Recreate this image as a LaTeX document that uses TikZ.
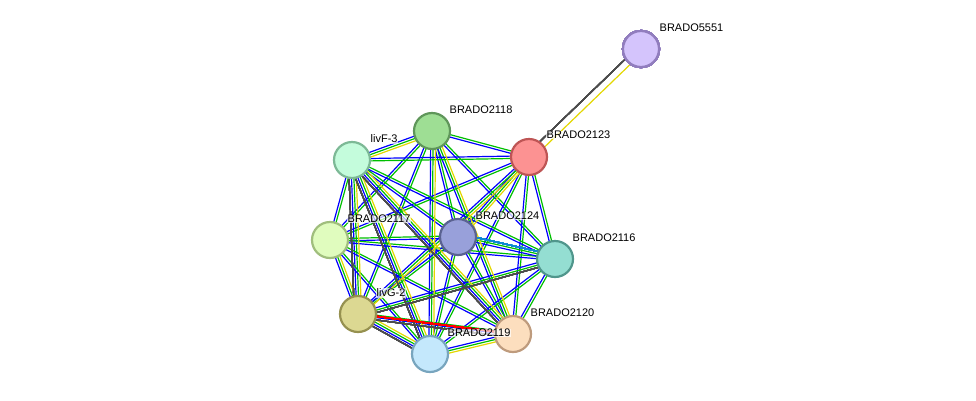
\documentclass[tikz,border=0pt]{standalone}
\usepackage{fontspec}
\setmainfont{Liberation Sans}
\usetikzlibrary{calc}
\tikzset{
  prot/.style={circle,draw,line width=2.2pt,minimum size=36pt,inner sep=0pt},
  lbl/.style={font=\fontsize{11}{13}\selectfont,fill=white,fill opacity=0.7,text opacity=1,inner sep=0.5pt},
  ew/.style={line width=1.2pt},
}
\newcommand\pline[4]{% colour, from, to, offset
  \draw[ew,#1] ($(#2)!#4!90:(#3)$) -- ($(#3)!#4!-90:(#2)$);}
\begin{document}
\begin{tikzpicture}[x=1pt,y=-1pt]
  \useasboundingbox (0,0) rectangle (976,400);
  % proteins
  \coordinate (p5551) at (641,49);
  \coordinate (p2118) at (432,131);
  \coordinate (p2123) at (529,157);
  \coordinate (livF) at (352,160);
  \coordinate (p2117) at (330,240);
  \coordinate (p2124) at (458,237);
  \coordinate (p2116) at (555,259);
  \coordinate (livG) at (358,314);
  \coordinate (p2120) at (513,334);
  \coordinate (p2119) at (430,354);
  % edges
  \foreach \a/\b in {p2118/p2123,p2118/livF,p2118/p2117,p2118/p2124,p2118/p2116,p2118/livG,p2118/p2120,p2118/p2119,
      p2123/livF,p2123/p2117,p2123/p2124,p2123/p2116,p2123/livG,p2123/p2120,p2123/p2119,
      livF/p2117,livF/p2124,livF/p2116,livF/livG,livF/p2120,livF/p2119,
      p2117/p2124,p2117/p2116,p2117/livG,p2117/p2120,p2117/p2119,
      p2124/p2116,p2124/livG,p2124/p2120,p2124/p2119,
      p2116/livG,p2116/p2120,p2116/p2119,
      livG/p2120,livG/p2119,p2120/p2119} {
    \pline{green!75!black}{\a}{\b}{1.2pt}
    \pline{blue}{\a}{\b}{-1.2pt}
  }
  \foreach \a/\b in {p5551/p2123,p2118/livF,p2118/p2119,p2118/p2120,livF/livG,livF/p2119,livF/p2120,p2123/p2124,
      p2117/livG,livG/p2119,p2120/p2119,p2123/livG}
    \pline{yellow!75!olive}{\a}{\b}{3.6pt}
  \foreach \a/\b in {p5551/p2123,livF/livG,livF/p2119,livF/p2120,livG/p2116,livG/p2119,livG/p2120}
    \pline{black!70}{\a}{\b}{-3.6pt}
  \pline{red}{livG}{p2120}{0pt}
  \pline{cyan!70!blue}{p2124}{p2116}{3.6pt}
  % nodes
  \node[prot,fill={rgb,255:red,212;green,196;blue,252},draw={rgb,255:red,145;green,125;blue,190}] (n5551) at (p5551) {};
  \node[prot,fill={rgb,255:red,158;green,222;blue,148},draw={rgb,255:red,95;green,150;blue,90}] (n2118) at (p2118) {};
  \node[prot,fill={rgb,255:red,252;green,146;blue,146},draw={rgb,255:red,190;green,85;blue,85}] (n2123) at (p2123) {};
  \node[prot,fill={rgb,255:red,196;green,252;blue,220},draw={rgb,255:red,125;green,185;blue,150}] (nlivF) at (livF) {};
  \node[prot,fill={rgb,255:red,224;green,252;blue,190},draw={rgb,255:red,160;green,190;blue,125}] (n2117) at (p2117) {};
  \node[prot,fill={rgb,255:red,152;green,160;blue,218},draw={rgb,255:red,90;green,98;blue,145}] (n2124) at (p2124) {};
  \node[prot,fill={rgb,255:red,148;green,222;blue,210},draw={rgb,255:red,80;green,150;blue,140}] (n2116) at (p2116) {};
  \node[prot,fill={rgb,255:red,220;green,216;blue,146},draw={rgb,255:red,150;green,145;blue,80}] (nlivG) at (livG) {};
  \node[prot,fill={rgb,255:red,252;green,222;blue,190},draw={rgb,255:red,190;green,155;blue,125}] (n2120) at (p2120) {};
  \node[prot,fill={rgb,255:red,196;green,232;blue,252},draw={rgb,255:red,120;green,165;blue,190}] (n2119) at (p2119) {};
  % labels
  \node[lbl,anchor=west] at (659,28) {BRADO5551};
  \node[lbl,anchor=west] at (449,110) {BRADO2118};
  \node[lbl,anchor=west] at (546,135) {BRADO2123};
  \node[lbl,anchor=west] at (370,139) {livF-3};
  \node[lbl,anchor=west] at (347,219) {BRADO2117};
  \node[lbl,anchor=west] at (475,216) {BRADO2124};
  \node[lbl,anchor=west] at (572,238) {BRADO2116};
  \node[lbl,anchor=west] at (376,293) {livG-2};
  \node[lbl,anchor=west] at (530,313) {BRADO2120};
  \node[lbl,anchor=west] at (447,333) {BRADO2119};
\end{tikzpicture}
\end{document}
